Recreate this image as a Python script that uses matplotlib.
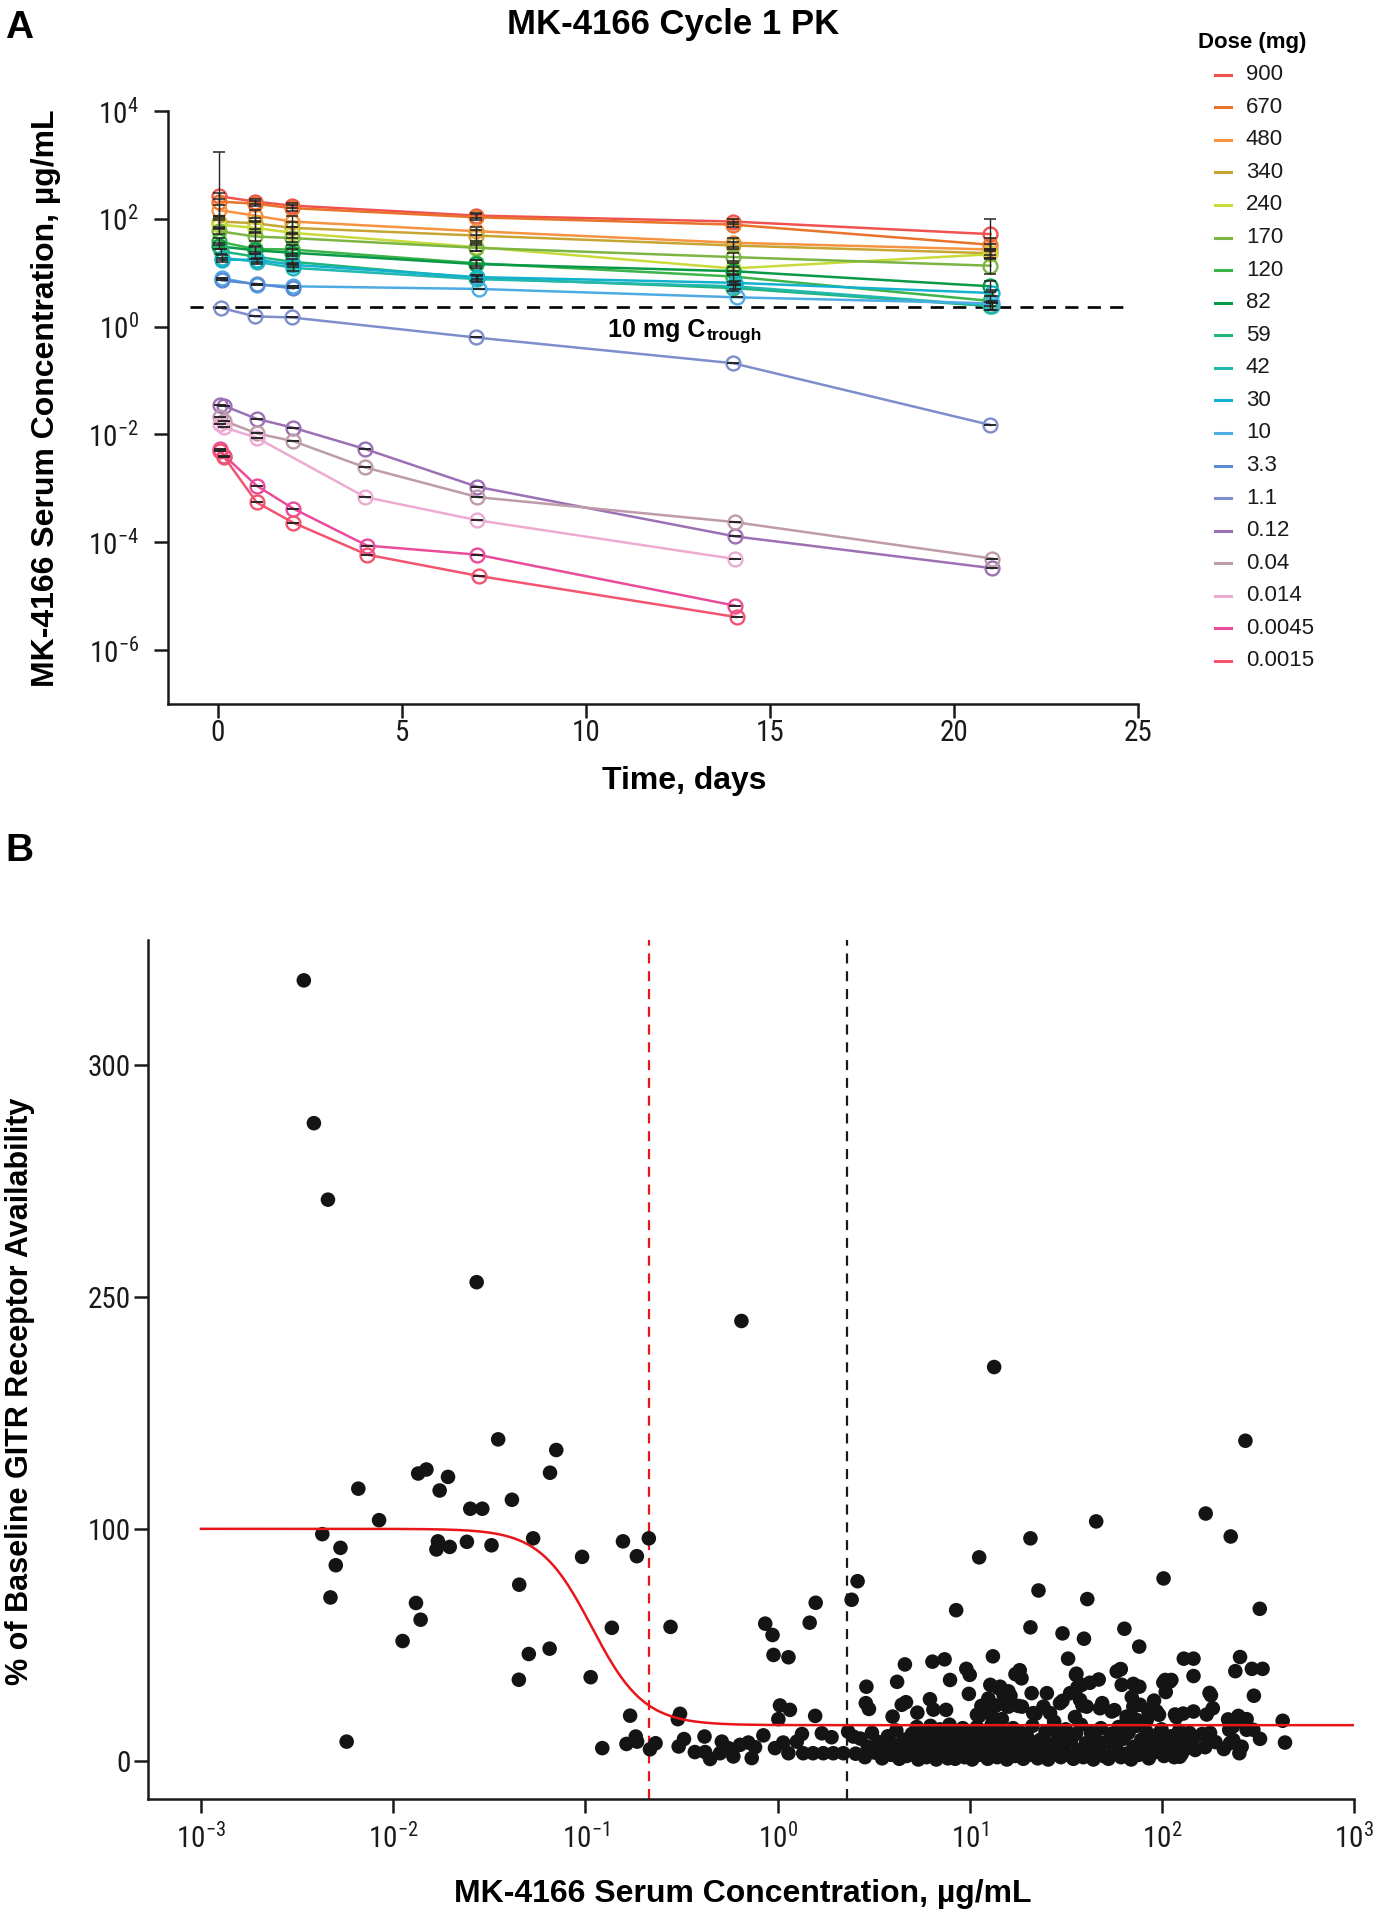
import numpy as np
import matplotlib
matplotlib.use('Agg')
import matplotlib.pyplot as plt
from matplotlib.lines import Line2D
from matplotlib import font_manager as fm
from matplotlib.ticker import NullLocator

# fonts: Arial-like text, condensed face for tick labels if one is installed
names = {f.name for f in fm.fontManager.ttflist}
SANS = 'Liberation Sans' if 'Liberation Sans' in names else 'DejaVu Sans'


def find_condensed():
    for fam in ['Liberation Sans Narrow', 'Arial Narrow', 'Roboto Condensed']:
        if fam in names:
            return fam, 'normal'
    for fam in ['Noto Sans', 'Open Sans', 'Roboto', 'Lato', 'Inter']:
        for f in fm.fontManager.ttflist:
            if (f.name == fam and f.style == 'normal'
                    and f.stretch in ('condensed', 'semi-condensed')
                    and f.weight in (400, 'normal', 'regular')):
                return fam, f.stretch
    return SANS, 'normal'


NARROW, NARROW_STRETCH = find_condensed()
plt.rcParams['font.family'] = [SANS, 'DejaVu Sans']
plt.rcParams['mathtext.fontset'] = 'custom'
plt.rcParams['mathtext.rm'] = f'{NARROW}:stretch={NARROW_STRETCH}'
plt.rcParams['mathtext.it'] = f'{NARROW}:stretch={NARROW_STRETCH}'
plt.rcParams['mathtext.bf'] = f'{NARROW}:bold:stretch={NARROW_STRETCH}'
TICK_SIZE = 21 if NARROW != SANS else 19.5

# ---------------- Panel A data: Cycle 1 PK by dose ----------------
dose_labels = ['900', '670', '480', '340', '240', '170', '120', '82', '59', '42',
               '30', '10', '3.3', '1.1', '0.12', '0.04', '0.014', '0.0045', '0.0015']
dose_colors = ['#F0524F', '#E8732A', '#F59340', '#C6A533', '#C9DA3B', '#7CB544',
               '#3DB44A', '#0A9A47', '#1FB57B', '#23B8AF', '#13B1CF', '#4DABE4',
               '#5B8AD4', '#7E8DCB', '#9C70B4', '#BE9BA9', '#EDAAD2', '#EA4C9C', '#F25470']

t_hi = [0.02, 1.0, 2.0, 7.0, 14.0, 21.0]
t_lo = [0.04, 0.17, 1.05, 2.05, 4.0, 7.05, 14.05, 21.05]

pk_times = [
    t_hi, t_hi, t_hi, t_hi, t_hi, t_hi, t_hi, t_hi,
    [0.08, 1.0, 2.0, 7.0, 14.0, 21.0],
    [0.1, 1.05, 2.05, 7.05, 14.05, 21.05],
    [0.1, 1.05, 2.05, 7.05, 14.05, 21.05],
    [0.1, 1.05, 2.05, 7.1, 14.1, 21.05],
    [0.1, 1.05, 2.05],
    [0.07, 1.0, 2.0, 7.0, 14.0, 21.0],
    t_lo,
    t_lo,
    [0.04, 0.17, 1.05, 4.0, 7.05, 14.05],
    [0.04, 0.17, 1.05, 2.05, 4.05, 7.05, 14.05],
    [0.04, 0.17, 1.05, 2.05, 4.05, 7.1, 14.1],
]

pk_conc = [
    [263, 209, 176, 115, 89, 52],
    [209, 191, 158, 107, 78, 33],
    [145, 115, 89, 59, 36, 27],
    [89, 83, 68, 49, 32, 23],
    [78, 68, 55, 30, 12, 22],
    [59, 47, 44, 29, 19.5, 13.5],
    [38, 27.5, 27, 15, 8.5, 3.0],
    [31, 26, 23.5, 14.5, 10.7, 5.6],
    [25, 20, 16, 8, 5.2, 2.4],
    [19, 16, 12.3, 7.6, 5.6, 2.45],
    [17.4, 17.4, 14, 8.3, 6.5, 4.2],
    [7.9, 6.0, 5.6, 5.0, 3.5, 2.7],
    [7.2, 6.2, 5.1],
    [2.24, 1.55, 1.48, 0.63, 0.21, 0.015],
    [0.0355, 0.0339, 0.0195, 0.0133, 0.00537, 0.00107, 1.29e-4, 3.31e-5],
    [0.0211, 0.0178, 0.0105, 0.0075, 0.00245, 6.9e-4, 2.37e-4, 5.0e-5],
    [0.0155, 0.0135, 0.0087, 6.9e-4, 2.57e-4, 4.9e-5],
    [0.00537, 0.00407, 0.00112, 4.2e-4, 8.7e-5, 5.9e-5, 6.7e-6],
    [0.0050, 0.0038, 5.5e-4, 2.3e-4, 5.9e-5, 2.37e-5, 4.1e-6],
]

# SD shown as log10 half-width per point (0 = single subject, cap only)
pk_err = [
    [0.05, 0.05, 0.05, 0.05, 0.05, 0.28],
    [0.06, 0.05, 0.06, 0.06, 0.05, 0.12],
    [0.10, 0.10, 0.10, 0.08, 0.08, 0.10],
    [0.10, 0.10, 0.10, 0.10, 0.06, 0.08],
    [0.08, 0.10, 0.10, 0.08, 0.10, 0.08],
    [0.06, 0.08, 0.08, 0.06, 0.08, 0.15],
    [0.06, 0.06, 0.08, 0.06, 0.10, 0.10],
    [0.06, 0.06, 0.06, 0.08, 0.08, 0.10],
    [0.05, 0.05, 0.05, 0.05, 0.05, 0.08],
    [0.05, 0.05, 0.05, 0.05, 0.05, 0.08],
    [0.04, 0.04, 0.04, 0.04, 0.04, 0.05],
]
big_err_upper = 1700  # 670 mg, first sample

ctrough_10mg = 2.31

# ---------------- Panel B data: receptor availability vs concentration ----------------
pts_low = [
    (0.00343, 318.3), (0.00387, 287.5), (0.00458, 271.0), (0.0272, 253.2),
    (0.0352, 157.9), (0.0706, 151.0), (0.0135, 135.8), (0.0149, 138.4),
    (0.0193, 133.6), (0.0655, 136.3), (0.00659, 126.0), (0.01746, 124.8),
    (0.0415, 118.8), (0.0252, 113.0), (0.0291, 113.0), (0.00845, 105.6),
    (0.00428, 97.7), (0.00532, 91.8), (0.00503, 84.3), (0.00472, 70.4),
    (0.00573, 8.2), (0.0171, 94.6), (0.0168, 91.1), (0.0197, 92.2),
    (0.0242, 94.4), (0.0325, 92.9), (0.0535, 95.9), (0.01315, 68.0),
    (0.0139, 60.8), (0.0112, 51.6), (0.0453, 75.9), (0.0508, 46.0),
    (0.0652, 48.3), (0.0451, 34.9), (0.0962, 87.9), (0.1374, 57.3),
    (0.1066, 36.0), (0.157, 94.6), (0.1854, 88.2), (0.214, 95.9),
    (0.2775, 57.7), (0.171, 19.4), (0.1225, 5.4), (0.1637, 7.2),
    (0.183, 10.4), (0.186, 8.2), (0.217, 4.9), (0.232, 7.5),
    (0.311, 20.2), (0.303, 17.9), (0.326, 9.3), (0.306, 6.1),
    (0.3715, 3.7), (0.417, 10.4), (0.42, 3.7),
]

pts_between = [
    (0.446, 0.7), (0.513, 8.2), (0.502, 3.2), (0.555, 5.4), (0.589, 1.8),
    (0.638, 6.8), (0.705, 7.8), (0.734, 1.1), (0.764, 5.8), (0.844, 10.9),
    (0.97, 5.4), (1.07, 7.8), (1.14, 3.2), (1.26, 8.2), (1.34, 11.5),
    (1.36, 3.2), (1.53, 3.2), (1.70, 11.8), (1.73, 3.2), (1.91, 10.1),
    (1.95, 3.2), (2.20, 3.2), (2.33, 12.5), (2.48, 10.4),
    (0.863, 59.1), (0.942, 54.2), (0.953, 45.6), (1.14, 44.6), (1.47, 59.5),
    (1.58, 68.1), (2.43, 69.4), (2.61, 77.4), (0.649, 234.5), (1.03, 23.8),
    (1.16, 21.9), (1.01, 17.9), (1.57, 19.3),
]

pts_high_upper = [
    (13.4, 204.7), (272, 157), (169, 109.9), (228, 96.7), (45.5, 104.8),
    (20.7, 95.9), (11.2, 87.7), (102, 78.6), (22.8, 73.4), (40.9, 69.7),
    (323, 65.5), (8.5, 64.9), (20.7, 57.5), (30.4, 54.9), (39.3, 52.6),
    (63.8, 56.9), (76.2, 49.2), (32.5, 44.0), (13.2, 45.0), (130, 44.0),
    (146, 44.0), (255, 44.7), (294, 39.6), (334, 39.6), (60.8, 39.4),
    (241, 38.6), (18.2, 39.0), (18.6, 35.5), (9.6, 39.6), (10.0, 37.0),
    (7.4, 43.7), (6.4, 42.7), (4.6, 41.5), (46.9, 35.0), (35.9, 37.5),
    (104, 34.8), (112, 34.8), (146, 36.5), (177, 29.2), (301, 28.0),
    (2.9, 31.9), (4.19, 34.0), (7.9, 34.8), (9.9, 28.8),
]

pts_high_mid = [
    (2.88, 24.8), (2.99, 22.3), (3.97, 19.0), (4.43, 24.1), (4.66, 25.2),
    (5.34, 20.7), (6.21, 26.5), (6.47, 22.0), (7.53, 21.9), (12.8, 32.7),
    (14.1, 31.3), (11.5, 23.6), (12.2, 22.9), (13.5, 23.6), (11.2, 19.3),
    (12.9, 19.9), (15.0, 28.4), (15.9, 29.9), (15.6, 23.6), (14.7, 17.9),
    (17.3, 37.3), (17.9, 23.6), (35.7, 37.0), (38.3, 32.7), (58.2, 38.5),
    (61.1, 39.5), (61.8, 32.7), (71, 33.1), (76.3, 31.9), (101.7, 33.7),
    (110, 34.1), (104.7, 29.6), (69.7, 27.4), (71, 23.3), (76.9, 24.1),
    (85, 21.2), (91, 25.9), (94, 21.2), (83.4, 17.6), (184, 22.6),
    (146, 21.2), (129, 20.3), (117, 19.9), (171, 19.9), (250, 19.3),
    (276, 17.9), (425, 17.2), (18.7, 23.3), (21.4, 20.5), (24.2, 23.3),
    (26.2, 20.5), (29.5, 24.8), (21, 29.1), (25.2, 29.1), (33.3, 29.1),
    (37.5, 26.2), (40.6, 23.3), (47.6, 22.6), (54.8, 21.2), (15.6, 29.1),
    (15.9, 23.3), (14.4, 31.9), (65.6, 19.0), (74, 17.6), (10.9, 19.8),
    (11.8, 23.8), (12.5, 26.8), (13.7, 23.8), (16.3, 28.0), (22, 20.2),
    (27.5, 16.8), (30.4, 25.8), (35.3, 18.8), (38.6, 23.8), (36.3, 31.6),
    (42.2, 33.6), (48.9, 24.8), (56.6, 21.8), (65.7, 17.8), (85.7, 21.8),
    (96.6, 19.8), (119, 18.8), (180, 28.2), (221, 17.8), (264, 16.8),
]

pts_band = [
    (2.55, 3.0), (2.7, 9.5), (2.85, 1.5), (2.95, 6.0), (3.1, 12.0), (3.2, 3.5),
    (3.35, 8.0), (3.5, 1.0), (3.6, 5.0), (3.75, 10.5), (3.9, 2.5), (4.0, 7.0),
    (4.15, 13.0), (4.3, 0.8), (4.4, 4.5), (4.55, 9.0), (4.7, 2.0), (4.85, 6.5),
    (5.0, 11.5), (5.1, 3.0), (5.3, 14.5), (5.4, 0.5), (5.5, 8.5), (5.65, 4.0),
    (5.8, 12.0), (5.95, 1.5), (6.1, 6.5), (6.25, 15.0), (6.4, 3.0), (6.55, 10.0),
    (6.7, 0.5), (6.85, 7.0), (7.0, 13.5), (7.2, 2.5), (7.35, 5.5), (7.5, 10.5),
    (7.7, 1.0), (7.85, 15.5), (8.0, 4.5), (8.2, 8.5), (8.4, 0.8), (8.6, 12.5),
    (8.8, 3.5), (9.0, 6.5), (9.2, 14.0), (9.4, 1.5), (9.6, 9.5), (9.8, 4.0),
    (10.0, 11.5), (10.3, 0.5), (10.6, 6.0), (10.9, 14.5), (11.2, 2.5), (11.5, 9.0),
    (11.8, 4.5), (12.1, 12.0), (12.4, 0.8), (12.7, 7.0), (13.0, 15.5), (13.3, 3.0),
    (13.6, 10.0), (13.9, 1.5), (14.2, 6.0), (14.5, 13.0), (14.8, 3.5), (15.2, 8.5),
    (15.6, 0.5), (16.0, 11.0), (16.4, 5.0), (16.8, 14.0), (17.2, 2.0), (17.6, 8.0),
    (18.0, 4.0), (18.5, 12.0), (19.0, 0.8), (19.5, 6.5), (20.0, 10.0), (20.5, 2.5),
    (21.2, 15.0), (21.9, 5.5), (22.6, 1.0), (23.3, 9.0), (24.0, 3.5), (24.8, 12.5),
    (25.6, 0.5), (26.4, 7.0), (27.2, 14.0), (28.0, 3.0), (28.9, 10.0), (29.8, 1.5),
    (30.7, 6.0), (31.6, 13.5), (32.6, 2.5), (33.6, 8.5), (34.6, 0.8), (35.7, 11.5),
    (36.8, 4.5), (37.9, 15.5), (39.0, 1.5), (40.2, 7.5), (41.4, 3.5), (42.7, 12.0),
    (44.0, 0.5), (45.3, 9.0), (46.7, 5.0), (48.1, 14.0), (49.6, 2.0), (51.1, 8.0),
    (52.7, 0.8), (54.3, 11.5), (56.0, 4.0), (57.7, 6.5), (59.5, 14.5), (61.3, 1.5),
    (63.2, 9.5), (65.1, 3.0), (67.1, 12.0), (69.2, 0.5), (71.3, 6.0), (73.5, 15.0),
    (75.8, 2.5), (78.1, 9.0), (80.5, 4.5), (83.0, 12.5), (85.5, 1.0), (88.1, 7.0),
    (90.8, 3.5), (93.6, 11.0), (96.5, 5.5), (99.5, 13.5), (102.5, 2.0), (105.7, 8.5),
    (109, 4.0), (112, 10.5), (116, 1.5), (119.5, 6.0), (123, 13.0), (127, 3.0),
    (131, 9.0), (135, 5.5), (139, 12.0), (143, 7.5), (148, 10.0), (124, 1.7),
    (149, 4.6), (168, 5.8), (174, 8.6), (178, 12.0), (224, 13.3), (234, 14.7),
    (226, 7.5), (235, 8.9), (253, 3.2), (276, 13.3), (299, 13.3), (324, 9.4),
    (437, 7.8), (162, 11.5), (190, 8.0), (210, 5.0), (260, 6.0),
]

# Emax fit
fit_top, fit_bottom, fit_ic50, fit_hill = 100.0, 15.3, 0.108, 3.2

# ---------------- figure ----------------
fig = plt.figure(figsize=(13.75, 19.2), dpi=100)

def style_axes(ax, xpad, ypad):
    for s in ['top', 'right']:
        ax.spines[s].set_visible(False)
    for s in ['left', 'bottom']:
        ax.spines[s].set_linewidth(1.8)
        ax.spines[s].set_color('#1a1a1a')
    ax.tick_params(direction='out', length=10, width=1.8, colors='#1a1a1a',
                   labelsize=TICK_SIZE)
    ax.tick_params(axis='x', pad=xpad)
    ax.tick_params(axis='y', pad=ypad)
    for lab in ax.get_xticklabels() + ax.get_yticklabels():
        lab.set_fontfamily(NARROW)
        lab.set_fontstretch(NARROW_STRETCH)

# Panel A
axA = fig.add_axes([0.1222, 0.6333, 0.7051, 0.3089])
axA.set_yscale('log')
axA.set_xlim(-1.36, 25)
axA.set_ylim(1e-7, 1e4)

for i, (t, c, col) in enumerate(zip(pk_times, pk_conc, dose_colors)):
    t = np.array(t)
    c = np.array(c)
    axA.plot(t, c, '-o', color=col, mfc='none', mec=col, ms=10, mew=1.7, lw=1.8, zorder=3)
    if i < len(pk_err):
        e = np.array(pk_err[i])
        lo = c - c / 10 ** e
        hi = c * 10 ** e - c
        if i == 1:
            hi[0] = big_err_upper - c[0]
            lo[0] = c[0] - c[0] / 10 ** 0.3
    else:
        lo = np.zeros_like(c)
        hi = np.zeros_like(c)
    axA.errorbar(t, c, yerr=[lo, hi], fmt='none', ecolor='#222222', elinewidth=1.0,
                 capsize=4.5, capthick=1.1, zorder=4)

axA.plot([-0.76, 24.8], [ctrough_10mg, ctrough_10mg], color='black', lw=1.9,
         dashes=(5, 3.5), zorder=2)
t1 = axA.text(10.6, 10 ** -0.19, '10 mg C', fontsize=18, fontweight='bold',
              ha='left', va='baseline', zorder=5)
axA.annotate('trough', xy=(1, 0), xycoords=t1, xytext=(1, -1), textcoords='offset points',
             fontsize=12.5, fontweight='bold', ha='left', va='bottom')

axA.set_xticks([0, 5, 10, 15, 20, 25])
axA.set_yticks([1e4, 1e2, 1e0, 1e-2, 1e-4, 1e-6])
axA.set_yticklabels(['$10^{4}$', '$10^{2}$', '$10^{0}$', '$10^{-2}$', '$10^{-4}$', '$10^{-6}$'])
axA.yaxis.set_minor_locator(NullLocator())
style_axes(axA, xpad=0.5, ypad=11)

fig.text(0.4898, 0.9872, 'MK-4166 Cycle 1 PK', fontsize=25, fontweight='bold',
         ha='center', va='center')
fig.text(0.0338, 0.7927, 'MK-4166 Serum Concentration, µg/mL', fontsize=23,
         fontweight='bold', rotation=90, ha='center', va='center')
fig.text(0.4975, 0.5932, 'Time, days', fontsize=23, fontweight='bold',
         ha='center', va='center')
fig.text(0.004, 0.995, 'A', fontsize=28, fontweight='bold', ha='left', va='top')
fig.text(0.004, 0.566, 'B', fontsize=28, fontweight='bold', ha='left', va='top')

# legend drawn at the right of panel A
fig.text(1197.5 / 1375, 1 - 42.9 / 1920, 'Dose (mg)', fontsize=16, fontweight='bold',
         ha='left', va='center')
for i, (lab, col) in enumerate(zip(dose_labels, dose_colors)):
    yy = 1 - (74.7 + i * 32.57) / 1920
    fig.add_artist(Line2D([1214.6 / 1375, 1230.6 / 1375], [yy, yy], color=col, lw=2.2,
                          transform=fig.transFigure))
    fig.text(1246 / 1375, yy, lab, fontsize=16, ha='left', va='center', color='#1a1a1a')

# Panel B
P_VALS = [-1e4, 0, 100, 250, 300, 1e4]
P_POS = [-1e4, 0, 100, 200, 300, 300 + (1e4 - 300) * 2]

def fwd(v):
    return np.interp(v, P_VALS, P_POS)

def inv(p):
    return np.interp(p, P_POS, P_VALS)

axB = fig.add_axes([0.1077, 0.0632, 0.8771, 0.4472])
axB.set_xscale('log')
axB.set_yscale('function', functions=(fwd, inv))
axB.set_xlim(10 ** -3.275, 1e3)
axB.set_ylim(-16.4, 327)

allpts = pts_low + pts_between + pts_high_upper + pts_high_mid + pts_band
bx = np.array([p[0] for p in allpts])
by = np.array([p[1] for p in allpts])
axB.scatter(bx, by, s=110, color='#141414', edgecolors='none', zorder=3)

xf = np.logspace(-3, 3, 400)
yf = fit_bottom + (fit_top - fit_bottom) / (1 + (xf / fit_ic50) ** fit_hill)
axB.plot(xf, yf, color='#E8161B', lw=1.8, zorder=4)

axB.axvline(0.214, color='#E8161B', lw=1.6, dashes=(4.5, 3.5), zorder=2)
axB.axvline(ctrough_10mg, color='#1a1a1a', lw=1.6, dashes=(4.5, 3.5), zorder=2)

axB.set_xticks([1e-3, 1e-2, 1e-1, 1e0, 1e1, 1e2, 1e3])
axB.set_xticklabels(['$10^{-3}$', '$10^{-2}$', '$10^{-1}$', '$10^{0}$', '$10^{1}$',
                     '$10^{2}$', '$10^{3}$'])
axB.xaxis.set_minor_locator(NullLocator())
axB.set_yticks([0, 100, 250, 300])
axB.set_yticklabels(['0', '100', '250', '300'])
axB.yaxis.set_minor_locator(NullLocator())
style_axes(axB, xpad=8, ypad=2.5)

fig.text(0.01425, 0.2753, '% of Baseline GITR Receptor Availability', fontsize=22,
         fontweight='bold', rotation=90, ha='center', va='center')
fig.text(0.5404, 0.01354, 'MK-4166 Serum Concentration, µg/mL', fontsize=23,
         fontweight='bold', ha='center', va='center')

fig.savefig('out.png', dpi=100)
